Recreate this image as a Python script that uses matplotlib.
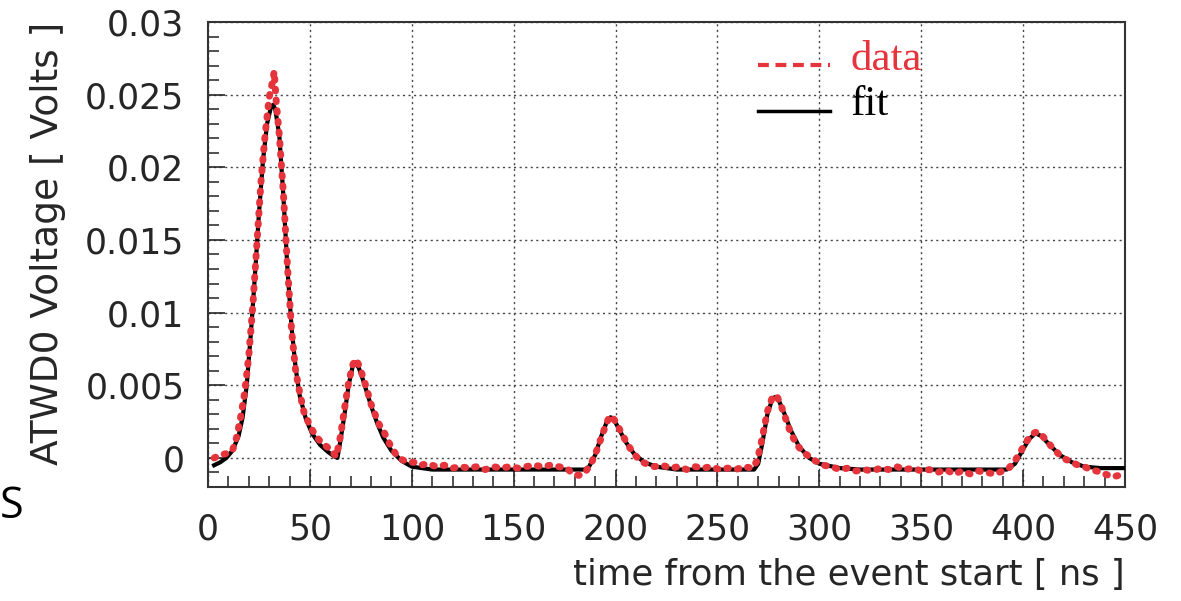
import matplotlib
matplotlib.use("Agg")
import matplotlib.pyplot as plt
from matplotlib.lines import Line2D
from matplotlib.ticker import MultipleLocator, FixedLocator

# fitted waveform
fit_t = [3, 6, 9, 12, 15, 17, 19, 21, 23, 25, 27, 29, 31, 32, 33, 35, 37, 39, 41, 43,
         45, 48, 51, 55, 59, 62, 63.5, 65, 67, 69, 71, 72.5, 74, 76, 78, 80, 83, 86, 90,
         95, 100, 110, 185, 187, 190, 193, 196, 197.5, 199, 202, 205, 209, 214, 220, 230,
         268, 270, 272, 274.5, 277, 278.5, 280, 283, 286, 290, 295, 300, 310, 320,
         392, 396, 400, 403, 406, 409, 413, 418, 424, 430, 438, 450]
fit_v = [-0.0005, -0.0003, 0.0000, 0.0005, 0.0015, 0.0028, 0.0050, 0.0085, 0.0125, 0.0168,
         0.0205, 0.0230, 0.0242, 0.0243, 0.0240, 0.0222, 0.0180, 0.0130, 0.0090, 0.0062,
         0.0043, 0.0027, 0.0017, 0.0009, 0.0004, 0.0001, 0.0000, 0.0012, 0.0030, 0.0050,
         0.0063, 0.0065, 0.0062, 0.0054, 0.0045, 0.0036, 0.0024, 0.0014, 0.0005,
         -0.0002, -0.0006, -0.0008, -0.0008, -0.0006, 0.0002, 0.0015, 0.0026, 0.0028,
         0.0027, 0.0019, 0.0011, 0.0003, -0.0003, -0.0006, -0.0008,
         -0.0008, -0.0004, 0.0010, 0.0030, 0.0041, 0.0042, 0.0040, 0.0030, 0.0019, 0.0008,
         0.0000, -0.0004, -0.0007, -0.0008,
         -0.0008, -0.0004, 0.0006, 0.0013, 0.0017, 0.0015, 0.0009, 0.0002, -0.0003,
         -0.0006, -0.0007, -0.0007]

# measured samples
data_t = [3, 6, 9, 12, 14, 16, 18, 20, 22, 24, 26, 28, 30, 31.5, 32.5, 33.5, 35, 37, 39, 41,
          43, 45, 47, 50, 53, 56, 59, 61, 63, 65, 67, 69, 71, 72.5, 74, 76, 78, 80, 82, 84,
          86, 89, 92, 95, 98, 101, 104, 108, 112, 116, 120, 124, 128, 132, 136, 140, 144,
          148, 152, 156, 160, 164, 168, 172, 176, 179, 182, 185, 188, 191, 194, 196.5, 198,
          200, 203, 206, 209, 212, 215, 219, 223, 227, 231, 235, 239, 243, 247, 251, 255,
          259, 263, 267, 269.5, 272, 274.5, 277, 279, 281, 283.5, 286, 289, 292, 295, 298,
          302, 306, 310, 314, 318, 322, 326, 330, 334, 338, 342, 346, 350, 354, 358, 362,
          366, 370, 374, 378, 382, 386, 390, 393, 396, 399, 402, 405, 407, 409, 412, 415,
          418, 421, 424, 427, 430, 433, 436, 440, 444, 447]
data_v = [0.0000, 0.0002, 0.0003, 0.0005, 0.0014, 0.0028, 0.0045, 0.0070, 0.0105, 0.0148,
          0.0190, 0.0222, 0.0248, 0.0258, 0.0266, 0.0245, 0.0222, 0.0182, 0.0132, 0.0088,
          0.0060, 0.0045, 0.0032, 0.0022, 0.0015, 0.0010, 0.0007, 0.0004, 0.0001, 0.0015,
          0.0034, 0.0052, 0.0064, 0.0068, 0.0064, 0.0056, 0.0047, 0.0037, 0.0030, 0.0023,
          0.0019, 0.0010, 0.0003, -0.0001, -0.0003, -0.0003, -0.0005, -0.0004, -0.0006,
          -0.0005, -0.0007, -0.0006, -0.0007, -0.0006, -0.0008, -0.0006, -0.0007, -0.0006,
          -0.0007, -0.0006, -0.0005, -0.0006, -0.0005, -0.0006, -0.0007, -0.0011, -0.0012,
          -0.0010, -0.0004, 0.0006, 0.0018, 0.0027, 0.0029, 0.0025, 0.0017, 0.0009, 0.0003,
          -0.0002, -0.0004, -0.0006, -0.0005, -0.0007, -0.0006, -0.0008, -0.0006, -0.0007,
          -0.0006, -0.0008, -0.0007, -0.0008, -0.0006, -0.0007, -0.0002, 0.0014, 0.0032,
          0.0042, 0.0043, 0.0037, 0.0027, 0.0017, 0.0009, 0.0004, 0.0001, -0.0002, -0.0005,
          -0.0006, -0.0008, -0.0007, -0.0009, -0.0008, -0.0009, -0.0007, -0.0008, -0.0006,
          -0.0008, -0.0007, -0.0009, -0.0008, -0.0010, -0.0008, -0.0011, -0.0009, -0.0011,
          -0.0009, -0.0010, -0.0011, -0.0009, -0.0007, -0.0002, 0.0005, 0.0012, 0.0017,
          0.0018, 0.0016, 0.0011, 0.0006, 0.0002, -0.0001, -0.0003, -0.0005, -0.0006,
          -0.0008, -0.0009, -0.0011, -0.0013, -0.0012]

x_ticks = [0, 50, 100, 150, 200, 250, 300, 350, 400, 450]
y_ticks = [0, 0.005, 0.01, 0.015, 0.02, 0.025, 0.03]
y_tick_labels = ["0", "0.005", "0.01", "0.015", "0.02", "0.025", "0.03"]

RED = "#e6343c"
TXT = "#262626"
sans = "DejaVu Sans"
serif = "Liberation Serif"

fig = plt.figure(figsize=(11.81, 6.01), dpi=100)
ax = fig.add_axes([208/1181, 1-487/601, (1125-208)/1181, (487-22)/601])

ax.plot(fit_t, fit_v, color="black", lw=3, solid_joinstyle="round", zorder=3)
ax.plot(data_t, data_v, color=RED, lw=5, linestyle=(0, (0.25, 1.3)),
        dash_capstyle="round", zorder=4)

ax.set_xlim(0, 450)
ax.set_ylim(-0.002, 0.03)

ax.xaxis.set_major_locator(FixedLocator(x_ticks))
ax.xaxis.set_minor_locator(MultipleLocator(10))
ax.yaxis.set_major_locator(FixedLocator(y_ticks))
ax.yaxis.set_minor_locator(MultipleLocator(0.001))
ax.set_yticklabels(y_tick_labels)

ax.tick_params(which="both", direction="in", top=False, right=False, color="#333333")
ax.tick_params(which="major", length=12, width=1.2)
ax.tick_params(which="minor", length=8, width=1.2)
ax.tick_params(axis="both", labelsize=25, colors=TXT)
ax.tick_params(axis="x", pad=18)
ax.tick_params(axis="y", pad=17)
for lab in ax.get_xticklabels() + ax.get_yticklabels():
    lab.set_family(sans)

ax.grid(True, which="major", color="#444444", lw=1.0, linestyle=(0, (1.5, 2.5)))
for s in ax.spines.values():
    s.set_linewidth(1.5)
    s.set_color("#333333")

ax.set_xlabel("time from the event start [ ns ]", family=sans, fontsize=25.5,
              color=TXT, loc="right", labelpad=9)
ax.set_ylabel("ATWD0 Voltage [ Volts ]", family=sans, fontsize=27,
              color=TXT, loc="top", labelpad=14)

# legend drawn by hand, ROOT style
fig.add_artist(Line2D([758/1181, 830/1181], [1-65/601, 1-65/601], color=RED, lw=3,
                      linestyle=(0, (2.6, 1.6))))
fig.add_artist(Line2D([758/1181, 830/1181], [1-111/601, 1-111/601], color="black", lw=2.5))
fig.text(851/1181, 1-70/601, "data", family=serif, fontsize=31, color=RED,
         va="baseline", ha="left")
fig.text(851/1181, 1-115/601, "fit", family=serif, fontsize=31, color="black",
         va="baseline", ha="left")

fig.text(0, 1-507/601, "S", family="Open Sans", fontsize=31, va="center", ha="left")

fig.savefig("out.png", dpi=100)
